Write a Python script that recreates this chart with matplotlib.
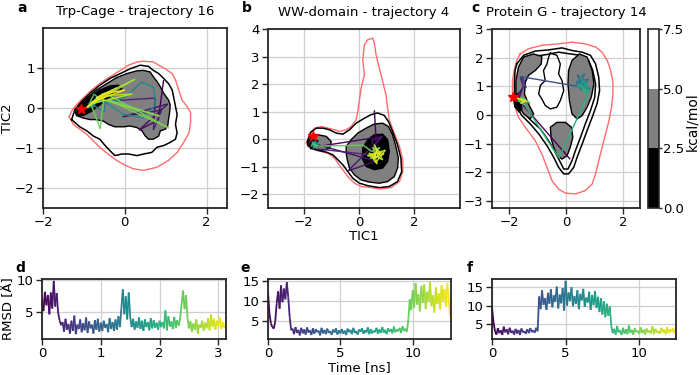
import numpy as np
import matplotlib.pyplot as plt
from matplotlib.collections import LineCollection
from matplotlib.colors import ListedColormap, BoundaryNorm
from matplotlib.cm import ScalarMappable

# ── Data: free-energy contour outlines (TIC1, TIC2) ─────────────────────────
a_red = [(-1.36, -0.22), (-1.30, -0.08), (-1.18, 0.08), (-1.02, 0.25), (-0.81, 0.45), (-0.61, 0.61),
         (-0.36, 0.78), (-0.11, 0.94), (0.09, 1.07), (0.30, 1.15), (0.46, 1.17), (0.70, 1.15),
         (0.83, 1.07), (0.99, 0.98), (1.16, 0.86), (1.24, 0.70), (1.32, 0.45), (1.40, 0.20),
         (1.52, 0.04), (1.61, -0.12), (1.61, -0.37), (1.57, -0.62), (1.44, -0.86), (1.28, -1.11),
         (1.07, -1.31), (0.79, -1.48), (0.46, -1.56), (0.21, -1.52), (0.01, -1.43), (-0.20, -1.31),
         (-0.36, -1.19), (-0.57, -1.02), (-0.77, -0.82), (-0.93, -0.66), (-1.10, -0.53), (-1.26, -0.41)]
a_outer = [(-1.30, -0.29), (-1.22, -0.04), (-1.06, 0.16), (-0.85, 0.37), (-0.61, 0.57), (-0.36, 0.74),
           (-0.11, 0.86), (0.13, 0.98), (0.38, 1.07), (0.58, 1.04), (0.70, 0.94), (0.83, 0.86),
           (0.95, 0.74), (1.07, 0.61), (1.16, 0.45), (1.20, 0.25), (1.24, 0.04), (1.28, -0.16),
           (1.24, -0.41), (1.28, -0.62), (1.24, -0.78), (1.11, -0.86), (0.95, -0.94), (0.79, -0.98),
           (0.66, -1.11), (0.46, -1.15), (0.30, -1.19), (0.09, -1.15), (-0.07, -1.15), (-0.24, -1.19),
           (-0.36, -1.07), (-0.48, -0.94), (-0.61, -0.78), (-0.77, -0.70), (-0.93, -0.57), (-1.10, -0.47)]
a_gray = [(-1.22, -0.08), (-1.10, 0.08), (-0.93, 0.25), (-0.69, 0.45), (-0.44, 0.61), (-0.20, 0.76),
          (0.05, 0.86), (0.30, 0.93), (0.46, 0.94), (0.62, 0.90), (0.70, 0.78), (0.79, 0.66),
          (0.87, 0.53), (0.95, 0.37), (1.07, 0.20), (1.11, 0.08), (1.10, -0.08), (1.07, -0.29),
          (1.05, -0.45), (0.99, -0.53), (0.87, -0.57), (0.83, -0.70), (0.70, -0.78), (0.58, -0.78),
          (0.50, -0.70), (0.42, -0.57), (0.30, -0.49), (0.13, -0.45), (-0.03, -0.47), (-0.24, -0.47),
          (-0.40, -0.41), (-0.52, -0.33), (-0.69, -0.29), (-0.85, -0.29), (-1.02, -0.25), (-1.18, -0.19)]
a_core = [(-1.18, -0.11), (-1.06, 0.08), (-0.85, 0.29), (-0.61, 0.45), (-0.36, 0.55), (-0.16, 0.57),
          (-0.07, 0.49), (-0.20, 0.37), (-0.40, 0.25), (-0.61, 0.08), (-0.81, -0.08), (-1.02, -0.19),
          (-1.14, -0.19)]

b_red = [(-1.91, -0.15), (-1.79, 0.22), (-1.61, 0.40), (-1.37, 0.46), (-1.13, 0.40), (-0.89, 0.34),
         (-0.71, 0.28), (-0.47, 0.34), (-0.29, 0.46), (-0.11, 0.70), (-0.05, 1.01), (0.01, 1.43),
         (0.07, 1.85), (0.19, 2.34), (0.13, 2.88), (0.19, 3.43), (0.31, 3.61), (0.49, 3.67),
         (0.55, 3.49), (0.61, 3.07), (0.73, 2.58), (0.85, 2.10), (0.97, 1.61), (1.03, 1.13),
         (1.09, 0.70), (1.27, 0.22), (1.46, -0.27), (1.58, -0.75), (1.58, -1.18), (1.46, -1.54),
         (1.15, -1.76), (0.79, -1.81), (0.43, -1.76), (0.07, -1.72), (-0.17, -1.60), (-0.41, -1.36),
         (-0.59, -1.12), (-0.77, -0.87), (-0.89, -0.69), (-1.13, -0.51), (-1.37, -0.45), (-1.61, -0.39),
         (-1.85, -0.27)]
b_outer = [(-1.87, -0.09), (-1.75, 0.25), (-1.55, 0.40), (-1.31, 0.40), (-1.07, 0.34), (-0.83, 0.22),
           (-0.59, 0.18), (-0.35, 0.34), (-0.11, 0.58), (0.19, 0.76), (0.43, 0.89), (0.67, 0.95),
           (0.91, 0.86), (1.06, 0.64), (1.21, 0.28), (1.39, -0.21), (1.51, -0.69), (1.54, -1.18),
           (1.39, -1.54), (1.09, -1.72), (0.73, -1.76), (0.31, -1.69), (0.01, -1.60), (-0.23, -1.42),
           (-0.41, -1.18), (-0.59, -0.93), (-0.77, -0.75), (-0.95, -0.57), (-1.19, -0.47), (-1.43, -0.42),
           (-1.67, -0.35), (-1.85, -0.23)]
b_gray_left = [(-1.85, -0.15), (-1.73, 0.10), (-1.49, 0.16), (-1.19, 0.10), (-1.01, -0.09),
               (-1.07, -0.33), (-1.37, -0.42), (-1.67, -0.35)]
b_gray_right = [(-0.47, -0.27), (-0.29, -0.02), (-0.05, 0.22), (0.25, 0.40), (0.55, 0.55), (0.85, 0.58),
                (1.06, 0.46), (1.21, 0.16), (1.33, -0.27), (1.42, -0.69), (1.39, -1.05), (1.27, -1.36),
                (1.03, -1.54), (0.73, -1.60), (0.37, -1.56), (0.07, -1.48), (-0.17, -1.30), (-0.35, -1.05),
                (-0.43, -0.75), (-0.47, -0.51)]
b_core_left = [(-1.80, -0.20), (-1.70, 0.00), (-1.50, -0.05), (-1.55, -0.30), (-1.75, -0.35)]
b_core_right = [(0.13, -0.33), (0.31, -0.02), (0.55, 0.16), (0.85, 0.18), (1.03, -0.02), (1.09, -0.45),
                (1.03, -0.81), (0.85, -1.05), (0.55, -1.11), (0.25, -0.99), (0.11, -0.69)]

c_red = [(-1.61, 2.13), (-1.32, 2.31), (-0.85, 2.43), (-0.26, 2.48), (0.21, 2.54), (0.68, 2.48),
         (1.04, 2.37), (1.27, 2.19), (1.45, 1.90), (1.57, 1.55), (1.65, 1.14), (1.65, 0.73),
         (1.60, 0.27), (1.51, -0.20), (1.39, -0.66), (1.27, -1.13), (1.15, -1.60), (1.04, -2.06),
         (0.92, -2.41), (0.68, -2.64), (0.33, -2.76), (-0.02, -2.73), (-0.26, -2.59), (-0.49, -2.30),
         (-0.67, -1.83), (-0.85, -1.36), (-1.08, -0.90), (-1.43, -0.43), (-1.67, -0.08), (-1.79, 0.27),
         (-1.88, 0.73), (-1.88, 1.20), (-1.81, 1.61), (-1.73, 1.90)]
c_outer = [(-1.73, 1.78), (-1.49, 2.08), (-1.08, 2.23), (-0.61, 2.27), (-0.14, 2.34), (0.21, 2.25),
           (0.57, 2.19), (0.86, 2.08), (1.04, 1.78), (1.15, 1.32), (1.18, 0.85), (1.09, 0.39),
           (0.92, -0.08), (0.74, -0.55), (0.57, -1.01), (0.39, -1.48), (0.27, -1.83), (0.09, -2.06),
           (-0.08, -2.06), (-0.26, -1.83), (-0.43, -1.48), (-0.67, -1.07), (-0.96, -0.66), (-1.26, -0.31),
           (-1.55, -0.02), (-1.73, 0.27), (-1.81, 0.73), (-1.81, 1.20), (-1.79, 1.55)]
c_inner = [(-1.69, 1.43), (-1.49, 1.90), (-1.14, 2.04), (-0.67, 2.11), (-0.26, 2.19), (0.15, 2.13),
           (0.51, 2.08), (0.80, 1.90), (0.94, 1.55), (1.04, 1.08), (1.01, 0.62), (0.86, 0.15),
           (0.68, -0.31), (0.51, -0.78), (0.33, -1.25), (0.21, -1.60), (0.07, -1.89), (-0.08, -1.89),
           (-0.20, -1.65), (-0.38, -1.30), (-0.61, -0.90), (-0.90, -0.49), (-1.22, -0.20), (-1.49, 0.09),
           (-1.67, 0.44), (-1.73, 0.97)]
c_island = [(-0.55, 2.16), (-0.32, 2.08), (-0.20, 1.78), (-0.26, 1.43), (-0.14, 1.20), (-0.08, 0.85),
            (-0.20, 0.50), (-0.32, 0.27), (-0.55, 0.21), (-0.73, 0.33), (-0.85, 0.56), (-0.96, 0.73),
            (-0.90, 1.03), (-0.73, 1.20), (-0.79, 1.55), (-0.67, 1.78), (-0.61, 2.02)]
c_gray_left = [(-1.67, 1.67), (-1.49, 2.02), (-1.14, 2.13), (-0.85, 2.04), (-0.87, 1.78), (-1.08, 1.55),
               (-1.32, 1.38), (-1.43, 1.14), (-1.46, 0.73), (-1.32, 0.39), (-1.14, 0.04), (-1.26, -0.14),
               (-1.49, 0.04), (-1.67, 0.33), (-1.76, 0.73), (-1.76, 1.20)]
c_gray_right = [(0.21, 1.90), (0.47, 2.13), (0.74, 2.02), (0.92, 1.55), (0.98, 1.08), (0.89, 0.62),
                (0.74, 0.27), (0.57, -0.02), (0.39, -0.14), (0.21, 0.04), (0.12, 0.50), (0.07, 1.08),
                (0.09, 1.55)]
c_gray_bottom = [(-0.55, -0.43), (-0.32, -0.26), (-0.02, -0.26), (0.19, -0.43), (0.24, -0.78),
                 (0.15, -1.13), (0.04, -1.42), (-0.14, -1.54), (-0.32, -1.42), (-0.43, -1.13),
                 (-0.52, -0.84)]
c_core = [(-1.85, 0.65), (-1.70, 0.75), (-1.60, 0.50), (-1.55, 0.20), (-1.65, 0.10), (-1.80, 0.30)]

# ── Data: projected trajectories (time [ns], TIC1, TIC2) ─────────────────────
traj_a = [(0.00, 0.95, 0.70), (0.04, 0.82, -0.30), (0.08, 0.35, -0.55), (0.12, 1.05, 0.10),
          (0.16, -0.05, -0.22), (0.20, 0.90, -0.05), (0.24, 0.70, -0.55), (0.28, 0.75, 0.25),
          (0.35, -0.75, 0.15), (0.45, -0.95, -0.02), (0.55, -0.65, 0.25), (0.65, -0.85, 0.05),
          (0.75, -0.55, 0.30), (0.85, -0.90, 0.10), (0.95, -0.70, 0.20), (1.05, -0.80, 0.00),
          (1.15, -0.60, 0.28), (1.25, -0.85, 0.12),
          (1.35, -0.50, -0.10), (1.37, -0.48, 0.12), (1.39, 0.02, 0.28), (1.41, 0.42, 0.65),
          (1.43, 0.70, 0.52), (1.45, 0.75, 0.08), (1.47, 0.45, -0.25), (1.49, -0.05, -0.15),
          (1.51, -0.55, 0.20),
          (1.60, -0.80, 0.10), (1.75, -0.65, 0.30), (1.90, -0.90, 0.00), (2.05, -0.60, 0.20),
          (2.20, -0.75, 0.35), (2.35, -0.85, 0.15),
          (2.40, -0.60, -0.52), (2.43, -0.50, 0.38), (2.46, 1.08, -0.50), (2.49, -0.40, 0.20),
          (2.52, 0.85, -0.20), (2.55, -0.70, 0.25),
          (2.60, -0.30, 0.45), (2.64, -0.90, 0.05), (2.68, 0.25, 0.72), (2.72, -0.60, 0.30),
          (2.76, 0.18, 0.35), (2.80, -0.85, 0.10), (2.84, -0.20, 0.50), (2.88, -0.70, 0.25),
          (2.92, -0.40, 0.40), (2.96, -0.95, 0.00), (3.00, -0.55, 0.35), (3.04, 0.00, 0.45),
          (3.08, -0.80, 0.15)]
traj_b = [(0.00, 0.55, 1.05), (0.10, 0.62, -0.15), (0.20, 0.85, 0.10), (0.30, -1.70, -0.30),
          (0.45, -1.50, -0.20), (0.60, 0.60, -0.80), (0.75, -0.40, -1.15), (0.90, 0.80, 0.05),
          (1.05, 0.45, -0.05), (1.20, 0.70, -0.60), (1.40, -1.55, -0.35),
          (1.6, -1.60, -0.25), (2.1, -1.72, -0.10), (2.5, -1.55, -0.30), (3.0, -1.68, -0.18),
          (3.4, -1.50, -0.12), (3.9, -1.75, -0.28), (4.4, -1.58, -0.05), (4.8, -1.66, -0.35),
          (5.3, -1.52, -0.20), (5.7, -1.70, -0.08), (6.2, -1.62, -0.30), (6.6, -1.48, -0.18),
          (7.1, -1.74, -0.22), (7.6, -1.56, -0.10), (8.0, -1.64, -0.26), (8.5, -1.50, -0.32),
          (8.9, -1.70, -0.15), (9.4, -1.58, -0.22),
          (9.6, -1.45, -0.25), (9.65, 0.15, -0.22), (9.7, 0.45, -0.45),
          (9.8, 0.75, -0.30), (10.0, 0.40, -0.70), (10.2, 0.90, -0.55), (10.35, 0.50, -0.30),
          (10.55, 0.65, -0.90), (10.75, 0.35, -0.50), (10.9, 0.85, -0.75), (11.1, 0.55, -0.20),
          (11.3, 0.70, -0.65), (11.5, 0.30, -0.60), (11.65, 0.95, -0.40), (11.85, 0.60, -0.85),
          (12.05, 0.45, -0.55), (12.2, 0.80, -0.50), (12.4, 0.55, -0.70), (12.6, 0.65, -0.35)]
traj_c = [(0.00, 0.15, -1.55), (0.10, -1.60, 0.45), (0.30, -1.70, 0.70), (0.50, -1.55, 0.90),
          (0.70, -1.65, 0.60), (0.90, -1.50, 1.00), (1.20, -1.60, 1.30), (1.50, -1.45, 1.10),
          (1.80, -1.55, 1.35), (2.10, -1.40, 0.95), (2.60, -1.60, 1.34), (3.20, 0.57, 0.97),
          (3.5, 0.40, 1.40), (3.8, 0.70, 1.00), (4.2, 0.35, 1.15), (4.5, 0.80, 1.25),
          (4.8, 0.50, 0.85), (5.2, 0.65, 1.45), (5.5, 0.30, 1.00), (5.8, 0.85, 0.90),
          (6.2, 0.45, 1.30), (6.5, 0.75, 1.10), (6.8, 0.40, 0.95), (7.2, 0.60, 1.20),
          (7.5, 0.80, 0.75), (7.9, 0.50, 1.05),
          (8.0, 0.75, 0.65), (8.1, -0.25, -1.50), (8.2, -1.45, 0.35),
          (8.6, -1.70, 0.50), (9.2, -1.55, 0.60), (9.7, -1.25, 0.42), (10.3, -1.65, 0.55),
          (10.8, -1.50, 0.45), (11.4, -1.75, 0.60), (11.9, -1.40, 0.50), (12.5, -1.60, 0.40)]

star_a = (-1.08, -0.03)
star_b = (-1.67, 0.13)
star_c = (-1.85, 0.64)

# ── Data: RMSD [Å] vs time ───────────────────────────────────────────────────
dt_d = 0.025
rmsd_d = [7.2, 5.1, 8.1, 6.0, 7.6, 4.6, 8.0, 5.5, 9.8, 5.8, 7.9, 4.8,
          3.6, 2.9,
          3.4, 1.9, 3.9, 2.2, 3.1, 1.6, 3.6, 2.0, 4.4, 1.5, 3.0, 2.3, 3.8, 1.8, 3.2, 2.1, 4.1, 1.7, 3.5, 2.4,
          3.0, 1.6, 3.7, 2.2, 3.9, 1.9, 3.3, 2.0, 3.6, 2.5, 3.1, 1.8, 4.0, 2.3, 3.4, 2.0, 3.8, 2.2, 4.3, 2.6,
          5.5, 8.5, 4.6, 7.4, 3.8, 8.0, 4.2,
          2.6, 3.9, 2.2, 3.5, 2.5, 4.1, 2.3, 3.6, 2.0, 3.8, 2.6, 3.4, 2.1, 4.0, 2.4, 3.7, 2.5, 3.3, 2.2, 3.6,
          2.6, 3.4, 2.4, 5.2, 2.1, 4.3, 2.7, 3.5, 2.3, 4.2, 2.5, 3.7, 2.8, 4.0,
          6.2, 8.3, 5.4, 7.6, 4.1,
          2.4, 3.5, 1.9, 3.2, 2.2, 3.8, 1.6, 3.0, 2.5, 3.6, 2.0, 3.3, 2.4, 4.0, 2.1, 4.6, 2.6, 3.9, 2.2, 3.6,
          2.8, 4.1, 2.3, 3.4, 2.5, 3.2]
dt_e = 0.1
rmsd_e = [12.2, 7.0, 4.5, 3.6, 3.2, 5.0,
          9.5, 12.5, 8.2, 14.0, 9.8, 13.2, 10.5, 14.8, 11.0,
          6.0, 2.8,
          3.2, 1.8, 3.6, 2.1, 2.9, 1.5, 3.4, 2.0, 3.0, 1.7, 3.5, 2.2, 2.8, 1.6, 3.3, 1.9, 3.1, 2.3, 2.7, 1.5,
          3.4, 2.0, 2.9, 1.8, 3.2, 2.1, 2.6, 1.6, 3.0, 2.2, 3.3, 1.7, 2.8, 2.0, 3.1, 1.9, 2.7, 1.6, 3.2, 2.3,
          2.9, 1.8, 3.4, 2.1, 2.6, 1.7, 3.0, 2.4, 3.3, 1.9, 2.8, 2.2, 3.5, 1.8, 3.1, 2.0, 2.7, 2.3, 3.4, 1.9,
          3.0, 2.1, 3.6, 2.2, 2.9, 1.8, 3.3, 2.4, 3.1, 2.0, 3.7, 2.3, 3.0, 2.5, 3.4, 2.1, 3.8, 2.6, 3.2, 2.4,
          5.5, 10.5, 7.8, 12.8, 8.4, 14.6, 9.2, 11.8, 7.5, 13.9, 9.6, 14.2, 8.1, 12.4, 10.0, 14.8, 8.8, 11.5,
          7.2, 13.5, 9.4, 12.0, 8.0, 14.0, 10.2, 13.1, 8.6, 14.5, 9.8, 6.0]
dt_f = 0.1
rmsd_f = [9.5, 5.5, 3.0,
          2.0, 3.8, 2.4, 3.2, 1.9, 4.2, 2.6, 3.5, 2.1, 3.9, 2.5, 3.1, 2.0, 3.6, 2.3, 3.3, 1.9, 3.7, 2.6, 3.0,
          2.2, 3.5, 2.4, 3.8, 2.7, 3.2, 2.5, 3.9, 2.9,
          12.5, 9.0, 14.2, 10.2, 12.0, 8.8, 13.5, 10.5, 14.5, 9.5, 12.8, 11.0, 15.2, 9.2, 13.0, 10.6, 14.8,
          8.6, 16.8, 10.0, 13.6, 11.2, 15.0, 9.8, 12.6, 10.4, 14.2, 9.0, 13.2, 11.4, 14.6, 9.6, 12.2, 10.8,
          13.8, 8.8, 12.9, 10.1, 14.0, 9.3, 12.4, 8.2, 12.0, 7.5, 11.2, 6.8, 10.5, 7.2, 9.8,
          4.5, 2.4, 3.6, 2.0, 4.4, 2.6, 3.2, 1.9, 3.9, 2.3, 3.5, 2.1, 4.6, 2.5, 3.3, 2.0, 3.8, 2.7, 3.1, 2.2,
          4.0, 2.4, 3.4, 2.0, 3.7, 2.6, 3.2, 2.3, 4.3, 2.1, 3.6, 2.5, 3.0, 2.2, 3.9, 2.6, 3.4, 2.1, 4.1, 2.4,
          3.5, 2.7, 3.8, 2.3, 4.0]

fe_levels = [0.0, 2.5, 5.0, 7.5]
fe_colors = ['black', '#808080', 'white']

titles = ['Trp-Cage - trajectory 16', 'WW-domain - trajectory 4', 'Protein G - trajectory 14']

# ── Helpers ─────────────────────────────────────────────────────────────────
SPINE = '#262626'
FS = 9.5


def style(ax):
    for s in ax.spines.values():
        s.set_color(SPINE)
        s.set_linewidth(1.3)
    ax.tick_params(length=4, width=1, color=SPINE, labelsize=FS, pad=2)
    ax.grid(True, color='#cfcfcf', lw=0.9)
    ax.set_axisbelow(True)


def closed(pts):
    xs = [p[0] for p in pts] + [pts[0][0]]
    ys = [p[1] for p in pts] + [pts[0][1]]
    return xs, ys


def outline(ax, pts, color, lw):
    xs, ys = closed(pts)
    ax.plot(xs, ys, color=color, lw=lw, zorder=2)


def region(ax, pts, face):
    xs, ys = closed(pts)
    ax.fill(xs, ys, facecolor=face, edgecolor='black', lw=1.0, zorder=3)


def trajectory(ax, traj, tmax, star):
    t = np.array([p[0] for p in traj])
    xy = np.array([[p[1], p[2]] for p in traj])
    segs = np.stack([xy[:-1], xy[1:]], axis=1)
    lc = LineCollection(segs, colors=plt.cm.viridis((t[:-1] + t[1:]) / 2 / tmax), lw=1.0, zorder=5)
    ax.add_collection(lc)
    ax.plot(*star, marker='*', color='red', ms=7.5, mec='red', zorder=6)


def rmsd_plot(ax, values, dt):
    t = np.arange(len(values)) * dt
    pts = np.column_stack([t, values])
    segs = np.stack([pts[:-1], pts[1:]], axis=1)
    lc = LineCollection(segs, colors=plt.cm.viridis(t[:-1] / t[-1]), lw=1.3)
    ax.add_collection(lc)


# ── Figure ──────────────────────────────────────────────────────────────────
W, H = 700, 375
fig = plt.figure(figsize=(7, 3.75), dpi=100)


def px_axes(x0, y0, x1, y1):
    return fig.add_axes([x0 / W, 1 - y1 / H, (x1 - x0) / W, (y1 - y0) / H])


ax_a = px_axes(43, 28, 227, 208)
ax_b = px_axes(268, 29, 460, 208)
ax_c = px_axes(492, 29, 640, 208)
cax = px_axes(648, 29, 659, 208)
ax_d = px_axes(42, 279, 226, 339)
ax_e = px_axes(268, 279, 451, 339)
ax_f = px_axes(492, 279, 676, 339)

# panel a
outline(ax_a, a_red, '#ff6b6b', 1.0)
outline(ax_a, a_outer, 'black', 1.1)
region(ax_a, a_gray, fe_colors[1])
region(ax_a, a_core, fe_colors[0])
trajectory(ax_a, traj_a, 3.1, star_a)
ax_a.set_xlim(-2, 2.5)
ax_a.set_ylim(-2.5, 2)
ax_a.set_xticks([-2, 0, 2])
ax_a.set_yticks([-2, -1, 0, 1])
ax_a.set_ylabel('TIC2', fontsize=FS, labelpad=1)

# panel b
outline(ax_b, b_red, '#ff6b6b', 1.0)
outline(ax_b, b_outer, 'black', 1.1)
region(ax_b, b_gray_left, fe_colors[1])
region(ax_b, b_gray_right, fe_colors[1])
region(ax_b, b_core_left, fe_colors[0])
region(ax_b, b_core_right, fe_colors[0])
trajectory(ax_b, traj_b, 12.6, star_b)
ax_b.set_xlim(-3.3, 3.65)
ax_b.set_ylim(-2.5, 4)
ax_b.set_xticks([-2, 0, 2])
ax_b.set_yticks([-2, -1, 0, 1, 2, 3, 4])
ax_b.set_xlabel('TIC1', fontsize=FS, labelpad=0.5)

# panel c
outline(ax_c, c_red, '#ff6b6b', 1.0)
outline(ax_c, c_outer, 'black', 1.1)
outline(ax_c, c_inner, 'black', 1.1)
outline(ax_c, c_island, 'black', 1.0)
region(ax_c, c_gray_left, fe_colors[1])
region(ax_c, c_gray_right, fe_colors[1])
region(ax_c, c_gray_bottom, fe_colors[1])
region(ax_c, c_core, fe_colors[0])
trajectory(ax_c, traj_c, 12.5, star_c)
ax_c.set_xlim(-2.6, 2.6)
ax_c.set_ylim(-3.25, 3)
ax_c.set_xticks([-2, 0, 2])
ax_c.set_yticks([-3, -2, -1, 0, 1, 2, 3])

for ax, title in zip([ax_a, ax_b, ax_c], titles):
    style(ax)
    ax.set_title(title, fontsize=9.5, pad=9)

# colorbar
sm = ScalarMappable(norm=BoundaryNorm(fe_levels, 3), cmap=ListedColormap(fe_colors))
cb = fig.colorbar(sm, cax=cax, ticks=fe_levels)
cb.outline.set_edgecolor(SPINE)
cb.outline.set_linewidth(1.2)
cax.tick_params(length=2.5, width=1, color=SPINE, labelsize=9.5, pad=0.5)
fig.text(692.5 / W, 1 - 122 / H, 'kcal/mol', rotation=90, fontsize=10, ha='center', va='center')

# RMSD panels
rmsd_plot(ax_d, rmsd_d, dt_d)
ax_d.set_xlim(0, 3.13)
ax_d.set_ylim(0.75, 10.1)
ax_d.set_xticks([0, 1, 2, 3])
ax_d.set_yticks([5, 10])
ax_d.set_ylabel('RMSD [Å]', fontsize=FS, labelpad=1)

rmsd_plot(ax_e, rmsd_e, dt_e)
ax_e.set_xlim(0, 12.65)
ax_e.set_ylim(0.6, 15.6)
ax_e.set_xticks([0, 5, 10])
ax_e.set_yticks([5, 10, 15])
ax_e.set_xlabel('Time [ns]', fontsize=FS, labelpad=0.5)

rmsd_plot(ax_f, rmsd_f, dt_f)
ax_f.set_xlim(0, 12.5)
ax_f.set_ylim(0.8, 17.3)
ax_f.set_xticks([0, 5, 10])
ax_f.set_yticks([5, 10, 15])

for ax in [ax_d, ax_e, ax_f]:
    style(ax)

# panel letters
for letter, (x, y) in zip('abcdef', [(17, 12), (242, 12), (471, 12), (15, 272), (240, 272), (467, 272)]):
    fig.text(x / W, 1 - y / H, letter, fontsize=10, fontweight='bold', ha='left', va='baseline')

fig.savefig('out.png', dpi=100)
